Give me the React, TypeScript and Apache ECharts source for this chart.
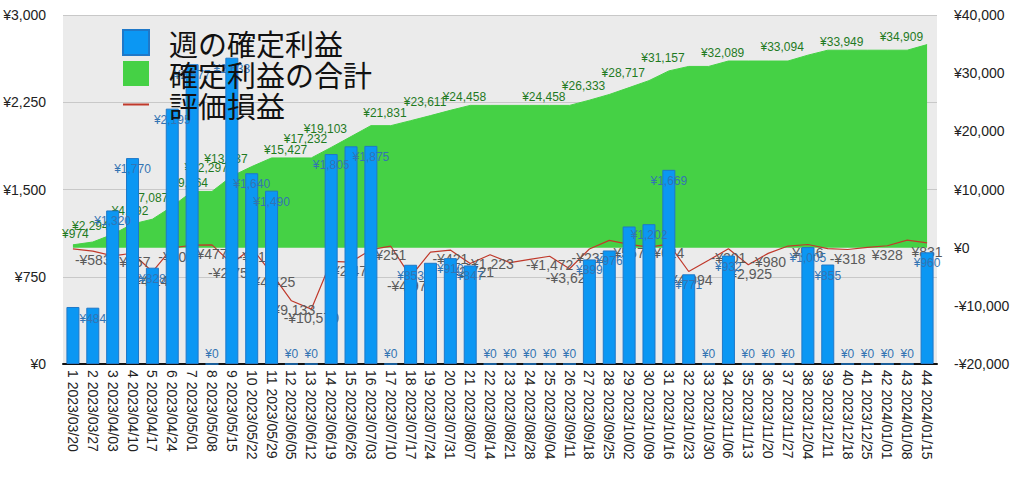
import React, { useEffect, useRef } from 'react';
import * as echarts from 'echarts';

const weekDates = [
  '2023/03/20', '2023/03/27', '2023/04/03', '2023/04/10', '2023/04/17', '2023/04/24',
  '2023/05/01', '2023/05/08', '2023/05/15', '2023/05/22', '2023/05/29', '2023/06/05',
  '2023/06/12', '2023/06/19', '2023/06/26', '2023/07/03', '2023/07/10', '2023/07/17',
  '2023/07/24', '2023/07/31', '2023/08/07', '2023/08/14', '2023/08/21', '2023/08/28',
  '2023/09/04', '2023/09/11', '2023/09/18', '2023/09/25', '2023/10/02', '2023/10/09',
  '2023/10/16', '2023/10/23', '2023/10/30', '2023/11/06', '2023/11/13', '2023/11/20',
  '2023/11/27', '2023/12/04', '2023/12/11', '2023/12/18', '2023/12/25', '2024/01/01',
  '2024/01/08', '2024/01/15',
];

// 週の確定利益
const weeklyProfit = [
  490, 484, 1320, 1770, 828, 2195, 2577, 0, 2633, 1640, 1490, 0,
  0, 1805, 1871, 1875, 0, 853, 870, 910, 847, 0, 0, 0,
  0, 0, 899, 976, 1182, 1202, 1669, 771, 0, 932, 0, 0,
  0, 1005, 855, 0, 0, 0, 0, 960,
];

// 確定利益の合計
const cumulativeProfit = [
  490, 974, 2294, 4064, 4892, 7087, 9664, 9664, 12297, 13937, 15427, 15427,
  15427, 17232, 19103, 20978, 20978, 21831, 22701, 23611, 24458, 24458, 24458, 24458,
  24458, 24458, 25357, 26333, 27515, 28717, 30386, 31157, 31157, 32089, 32089, 32089,
  32089, 33094, 33949, 33949, 33949, 33949, 33949, 34909,
];

// 評価損益
const unrealizedPL = [
  -200, -583, -1400, -957, -4145, -30, 420, 477, -2750, -31, -4425, -9133,
  -10570, -2350, -2478, -340, 251, -4973, -750, -421, -2721, -1223, -2580, -2000,
  -1472, -3628, -237, 1250, 557, 100, 624, -4094, -2180, -201, -2925, -980,
  280, 546, -170, -318, 50, 328, 1300, 831,
];

const leftTicks = [0, 750, 1500, 2250, 3000];
const rightTicks = [-20000, -10000, 0, 10000, 20000, 30000, 40000];

// weeks (1-based) whose labels are visible in the reference
const barLabelHidden = [1, 15, 19, 29];
const cumLabelWeeks = [2, 3, 5, 6, 8, 9, 10, 13, 14, 15, 18, 20, 22, 26, 28, 30, 32, 35, 38, 41, 44];
const plLabelWeeks = [2, 4, 5, 6, 8, 9, 10, 11, 12, 13, 15, 17, 18, 20, 21, 22, 25, 26, 27, 29, 31, 32, 34, 35, 36, 38, 40, 42, 44];

const seriesNames = ['週の確定利益', '確定利益の合計', '評価損益'];

const yen = (v: number) => (v < 0 ? '-' : '') + '¥' + Math.abs(v).toLocaleString('en-US');

const LATIN = '"Liberation Sans", Arial, Helvetica, sans-serif';
const CJK = '"Noto Sans CJK JP", "Noto Sans", sans-serif';

export default function App() {
  const ref = useRef<HTMLDivElement>(null);

  useEffect(() => {
    if (!ref.current) return;
    const chart = echarts.init(ref.current, undefined, { renderer: 'svg' });

    const categories = weekDates.map((d, i) => `${i + 1} ${d}`);

    const barData = weeklyProfit.map((v, i) => ({
      value: v,
      label: {
        show: barLabelHidden.indexOf(i + 1) < 0,
        position: v === 0 ? 'insideBottom' : 'insideTop',
        distance: 5,
      },
    }));

    const cumData = cumulativeProfit.map((v, i) => ({
      value: v,
      label: { show: cumLabelWeeks.indexOf(i + 1) >= 0 },
    }));

    const plData = unrealizedPL.map((v, i) => ({
      value: v,
      label: { show: plLabelWeeks.indexOf(i + 1) >= 0 },
    }));

    chart.setOption({
      animation: false,
      backgroundColor: '#ffffff',
      grid: {
        left: 63,
        right: 87,
        top: 15,
        bottom: 117,
        show: true,
        backgroundColor: '#ebebeb',
        borderWidth: 0,
      },
      legend: {
        orient: 'vertical',
        left: 122,
        top: 28,
        padding: 0,
        itemWidth: 26,
        itemHeight: 25,
        itemGap: 2,
        selectedMode: false,
        textStyle: {
          fontFamily: CJK,
          fontSize: 29,
          color: '#111',
          padding: [0, 0, 0, 15],
        },
        data: [
          { name: seriesNames[0], icon: 'rect' },
          { name: seriesNames[1], icon: 'rect' },
          { name: seriesNames[2], itemStyle: { opacity: 0 } },
        ],
      },
      xAxis: {
        type: 'category',
        data: categories,
        boundaryGap: true,
        axisLine: { show: true, lineStyle: { color: '#111', width: 2 } },
        axisTick: { show: false },
        axisLabel: {
          interval: 0,
          rotate: -90,
          margin: 6,
          fontFamily: LATIN,
          fontSize: 14,
          color: '#222',
        },
        splitLine: { show: false },
      },
      yAxis: [
        {
          type: 'value',
          min: leftTicks[0],
          max: leftTicks[leftTicks.length - 1],
          interval: leftTicks[1] - leftTicks[0],
          axisLine: { show: false },
          axisTick: { show: false },
          axisLabel: {
            margin: 17,
            fontFamily: LATIN,
            fontSize: 14,
            color: '#222',
            formatter: (v: number) => yen(v),
          },
          splitLine: { show: true, lineStyle: { color: '#c8c8c8', width: 1 } },
        },
        {
          type: 'value',
          min: rightTicks[0],
          max: rightTicks[rightTicks.length - 1],
          interval: rightTicks[1] - rightTicks[0],
          axisLine: { show: false },
          axisTick: { show: false },
          axisLabel: {
            margin: 17,
            fontFamily: LATIN,
            fontSize: 14,
            color: '#222',
            formatter: (v: number) => yen(v),
          },
          splitLine: { show: false },
        },
      ],
      series: [
        {
          name: seriesNames[1],
          type: 'line',
          yAxisIndex: 1,
          data: cumData,
          color: '#45d145',
          symbol: 'circle',
          symbolSize: 0,
          lineStyle: { color: '#45d145', width: 1 },
          itemStyle: { color: '#45d145' },
          areaStyle: { color: '#45d145', opacity: 1 },
          z: 1,
          label: {
            position: 'left',
            distance: 4,
            offset: [0, -8],
            fontFamily: LATIN,
            fontSize: 12,
            color: '#1f7a1f',
            formatter: (p: any) => yen(p.value),
          },
        },
        {
          name: seriesNames[2],
          type: 'line',
          yAxisIndex: 1,
          data: plData,
          color: '#c0392b',
          symbol: 'circle',
          symbolSize: 0,
          lineStyle: { color: '#c0392b', width: 1.2 },
          itemStyle: { color: '#c0392b' },
          z: 2,
          label: {
            position: 'bottom',
            distance: 2,
            fontFamily: LATIN,
            fontSize: 14,
            color: '#5a5a5a',
            formatter: (p: any) => yen(p.value),
          },
        },
        {
          name: seriesNames[0],
          type: 'bar',
          yAxisIndex: 0,
          data: barData,
          barWidth: 13,
          color: '#0b97f3',
          itemStyle: { color: '#0b97f3', borderColor: '#1f78c8', borderWidth: 1 },
          z: 3,
          label: {
            fontFamily: LATIN,
            fontSize: 12,
            color: '#3374b3',
            formatter: (p: any) => yen(p.value),
          },
        },
      ],
    });

    return () => chart.dispose();
  }, []);

  return (
    <div
      ref={ref}
      style={{ position: 'absolute', left: 0, top: 0, width: 1024, height: 481 }}
    />
  );
}
